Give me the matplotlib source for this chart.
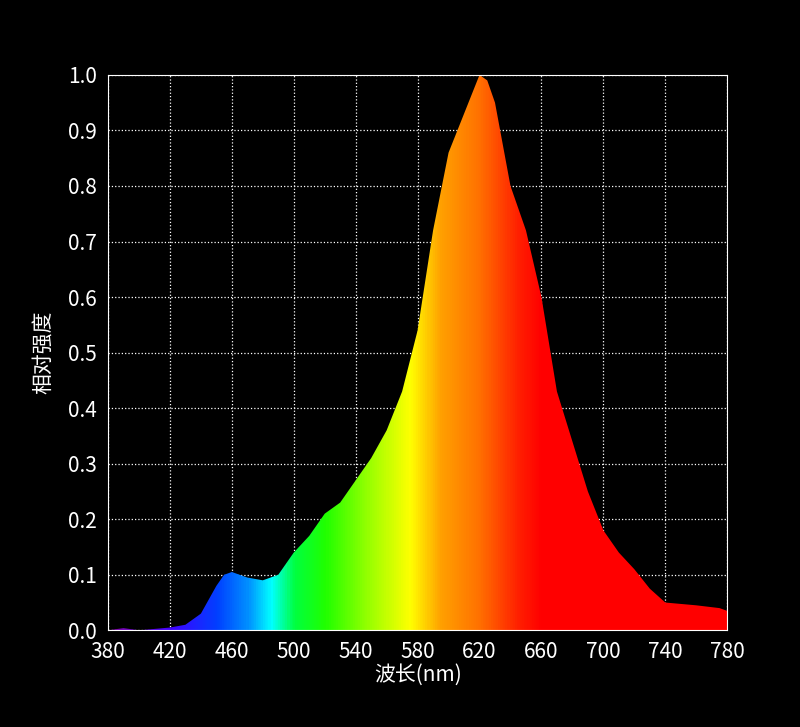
import numpy as np
import matplotlib.pyplot as plt
from matplotlib.colors import LinearSegmentedColormap
from matplotlib.path import Path
from matplotlib.patches import PathPatch

plt.rcParams['font.family'] = ['Noto Sans CJK SC', 'DejaVu Sans']

# Spectrum
wavelength = [380, 390, 400, 420, 430, 440, 450, 455, 460, 470, 480, 490, 500, 510, 520, 530,
              540, 550, 560, 570, 580, 590, 600, 610, 620, 625, 630, 640, 650, 660, 670, 680,
              690, 700, 710, 720, 730, 740, 760, 775, 780]
intensity = [0.0, 0.004, 0.0, 0.005, 0.01, 0.03, 0.08, 0.1, 0.105, 0.095, 0.09, 0.1, 0.14, 0.17,
             0.21, 0.23, 0.27, 0.31, 0.36, 0.43, 0.54, 0.72, 0.86, 0.93, 1.0, 0.99, 0.95, 0.80,
             0.72, 0.60, 0.43, 0.34, 0.25, 0.18, 0.14, 0.11, 0.075, 0.05, 0.045, 0.04, 0.035]

xticks = list(range(380, 781, 40))
yticks = [round(0.1 * i, 1) for i in range(11)]

# wavelength to colour
stops = [(380, '#8000a0'), (420, '#4000ff'), (450, '#0040ff'), (470, '#0090ff'),
         (485, '#00ffff'), (500, '#00ff40'), (520, '#20ff00'), (550, '#a0ff00'),
         (575, '#ffff00'), (595, '#ffa000'), (620, '#ff7000'), (645, '#ff2000'),
         (660, '#ff0000'), (780, '#ff0000')]
cmap = LinearSegmentedColormap.from_list(
    'spec', [((w - 380) / 400, c) for w, c in stops])

fig = plt.figure(figsize=(8, 7.27), dpi=100, facecolor='black')
ax = fig.add_axes([0.135, 0.133, 0.774, 0.764], facecolor='black')

grad = np.linspace(0, 1, 800).reshape(1, -1)
im = ax.imshow(grad, cmap=cmap, aspect='auto', extent=[380, 780, 0, 1], zorder=2)
verts = [(380, 0)] + list(zip(wavelength, intensity)) + [(780, 0)]
clip = PathPatch(Path(verts), transform=ax.transData, facecolor='none', edgecolor='none')
ax.add_patch(clip)
im.set_clip_path(clip)

ax.set_xlim(380, 780)
ax.set_ylim(0, 1)
ax.set_xticks(xticks)
ax.set_yticks(yticks)
ax.set_yticklabels([f'{v:.1f}' for v in yticks])
ax.grid(True, color='white', linestyle=':', linewidth=0.9, zorder=1)
ax.set_axisbelow(True)
for s in ax.spines.values():
    s.set_color('white')
ax.tick_params(colors='white', labelsize=15, length=0, pad=8)
ax.set_xlabel('波长(nm)', color='white', fontsize=15, labelpad=0)
ax.set_ylabel('相对强度', color='white', fontsize=15, labelpad=10)

fig.savefig('out.png', facecolor='black')
